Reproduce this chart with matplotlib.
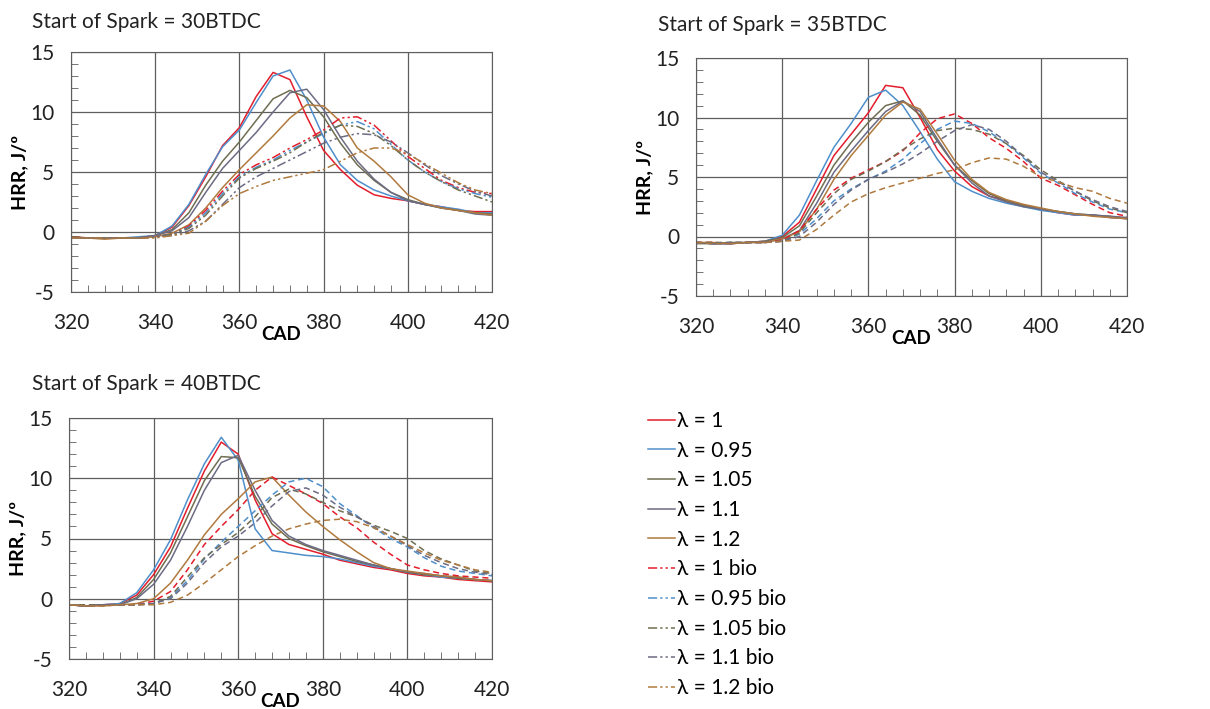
import matplotlib
matplotlib.use("Agg")
import matplotlib.pyplot as plt
from matplotlib.ticker import MultipleLocator

plt.rcParams['font.family'] = ['Lato', 'DejaVu Sans']
plt.rcParams['axes.unicode_minus'] = False

# crank angle grid (CAD)
cad = [320, 324, 328, 332, 336, 340, 344, 348, 352, 356, 360, 364, 368,
       372, 376, 380, 384, 388, 392, 396, 400, 404, 408, 412, 416, 420]

labels = ['λ = 1', 'λ = 0.95', 'λ = 1.05', 'λ = 1.1', 'λ = 1.2',
          'λ = 1 bio', 'λ = 0.95 bio', 'λ = 1.05 bio', 'λ = 1.1 bio', 'λ = 1.2 bio']
colors = ['#e31d2b', '#4f8fcb', '#6f6e52', '#6c6b84', '#b07a3e',
          '#e31d2b', '#4f8fcb', '#6f6e52', '#6c6b84', '#b07a3e']

# Start of spark = 30 BTDC
hrr30 = [
    [-0.4, -0.5, -0.5, -0.5, -0.5, -0.3, 0.4, 2.2, 4.6, 7.2, 8.7, 11.3, 13.3, 12.7, 9.6, 6.8, 5.2, 3.9, 3.1, 2.8, 2.6, 2.3, 2.1, 1.8, 1.7, 1.7],
    [-0.5, -0.5, -0.5, -0.5, -0.4, -0.3, 0.5, 2.3, 4.8, 7.1, 8.5, 10.8, 13.0, 13.5, 11.0, 7.9, 5.6, 4.3, 3.5, 3.0, 2.6, 2.3, 2.1, 1.9, 1.6, 1.6],
    [-0.4, -0.5, -0.5, -0.5, -0.5, -0.3, 0.2, 1.6, 3.9, 5.9, 7.5, 9.3, 11.1, 11.8, 11.2, 9.6, 7.4, 5.6, 4.3, 3.3, 2.7, 2.3, 2.0, 1.8, 1.6, 1.5],
    [-0.5, -0.5, -0.5, -0.5, -0.5, -0.3, 0.1, 1.2, 3.3, 5.3, 6.8, 8.3, 10.0, 11.6, 11.9, 10.2, 7.9, 5.9, 4.4, 3.3, 2.6, 2.3, 2.0, 1.8, 1.5, 1.4],
    [-0.5, -0.5, -0.6, -0.5, -0.5, -0.4, -0.1, 0.6, 2.0, 3.7, 5.2, 6.6, 8.0, 9.5, 10.6, 10.5, 9.2, 7.0, 5.9, 4.6, 3.1, 2.4, 2.0, 1.8, 1.6, 1.4],
    [-0.4, -0.5, -0.5, -0.5, -0.5, -0.4, -0.2, 0.5, 1.8, 3.4, 4.8, 5.6, 6.2, 7.0, 7.7, 8.5, 9.5, 9.6, 8.9, 7.6, 6.3, 5.3, 4.3, 3.7, 3.3, 3.2],
    [-0.5, -0.5, -0.5, -0.5, -0.5, -0.4, -0.2, 0.4, 1.6, 3.2, 4.6, 5.4, 6.0, 6.8, 7.5, 8.2, 8.9, 9.2, 8.6, 7.3, 6.0, 5.0, 4.2, 3.6, 3.2, 2.9],
    [-0.4, -0.5, -0.5, -0.5, -0.5, -0.4, -0.2, 0.3, 1.4, 3.0, 4.5, 5.3, 5.9, 6.6, 7.5, 8.3, 8.9, 8.8, 8.2, 7.2, 6.0, 5.0, 4.2, 3.5, 3.0, 2.5],
    [-0.5, -0.5, -0.5, -0.5, -0.5, -0.4, -0.3, 0.1, 0.9, 2.3, 3.7, 4.6, 5.3, 6.0, 6.7, 7.4, 7.9, 8.2, 8.1, 7.5, 6.6, 5.6, 4.7, 4.0, 3.4, 3.0],
    [-0.5, -0.5, -0.5, -0.5, -0.5, -0.5, -0.3, -0.1, 0.9, 2.2, 3.2, 3.8, 4.3, 4.6, 4.9, 5.2, 5.9, 6.6, 7.0, 7.0, 6.5, 5.7, 4.9, 4.1, 3.5, 3.2],
]

# Start of spark = 35 BTDC
hrr35 = [
    [-0.5, -0.6, -0.6, -0.5, -0.4, 0.0, 1.2, 4.0, 6.8, 8.6, 10.4, 12.7, 12.5, 10.0, 7.3, 5.5, 4.2, 3.4, 3.0, 2.6, 2.3, 2.0, 1.8, 1.8, 1.6, 1.5],
    [-0.5, -0.6, -0.6, -0.5, -0.4, 0.1, 1.8, 4.7, 7.5, 9.5, 11.7, 12.3, 11.0, 8.8, 6.5, 4.6, 3.8, 3.2, 2.8, 2.5, 2.2, 2.0, 1.8, 1.8, 1.6, 1.5],
    [-0.6, -0.6, -0.5, -0.5, -0.4, -0.1, 0.9, 3.4, 6.0, 7.9, 9.6, 11.0, 11.4, 10.2, 8.0, 6.0, 4.7, 3.6, 3.0, 2.6, 2.3, 2.1, 1.9, 1.8, 1.7, 1.5],
    [-0.5, -0.6, -0.6, -0.5, -0.5, -0.2, 0.5, 2.8, 5.4, 7.2, 8.9, 10.5, 11.4, 10.5, 8.2, 6.0, 4.5, 3.4, 2.9, 2.5, 2.3, 2.1, 1.9, 1.8, 1.7, 1.6],
    [-0.5, -0.5, -0.6, -0.5, -0.5, -0.2, 0.4, 2.3, 4.8, 6.8, 8.5, 10.2, 11.3, 10.7, 8.6, 6.4, 4.8, 3.7, 3.1, 2.7, 2.4, 2.1, 1.9, 1.7, 1.6, 1.5],
    [-0.5, -0.5, -0.6, -0.5, -0.5, -0.3, 0.5, 2.3, 3.9, 4.9, 5.6, 6.3, 7.2, 8.7, 9.9, 10.3, 9.5, 8.3, 7.4, 6.3, 4.9, 4.3, 3.5, 2.7, 2.0, 1.7],
    [-0.5, -0.6, -0.6, -0.5, -0.5, -0.4, 0.2, 1.5, 3.0, 4.0, 4.8, 5.5, 6.5, 7.8, 9.0, 9.7, 9.5, 8.8, 7.8, 6.6, 5.3, 4.5, 3.6, 2.9, 2.3, 2.0],
    [-0.5, -0.5, -0.5, -0.5, -0.5, -0.4, 0.3, 2.0, 3.6, 4.8, 5.5, 6.3, 7.3, 8.2, 8.9, 9.1, 9.0, 8.6, 7.8, 6.8, 5.6, 4.7, 3.8, 3.0, 2.4, 2.0],
    [-0.5, -0.6, -0.5, -0.5, -0.5, -0.4, 0.0, 1.2, 2.7, 3.9, 4.8, 5.4, 6.1, 7.0, 8.0, 8.9, 9.4, 9.0, 8.0, 6.7, 5.4, 4.6, 3.8, 3.1, 2.5, 2.1],
    [-0.5, -0.6, -0.6, -0.5, -0.5, -0.4, -0.3, 0.6, 1.8, 2.9, 3.6, 4.1, 4.5, 4.9, 5.3, 5.6, 6.2, 6.6, 6.5, 5.9, 5.0, 4.6, 4.1, 3.8, 3.2, 2.8],
]

# Start of spark = 40 BTDC
hrr40 = [
    [-0.5, -0.6, -0.5, -0.4, 0.3, 2.0, 4.3, 7.5, 10.6, 13.0, 12.0, 8.2, 5.4, 4.5, 4.1, 3.7, 3.2, 2.9, 2.6, 2.4, 2.1, 1.9, 1.8, 1.6, 1.5, 1.4],
    [-0.5, -0.6, -0.5, -0.4, 0.5, 2.4, 4.9, 8.2, 11.2, 13.4, 11.5, 5.8, 4.0, 3.8, 3.6, 3.5, 3.3, 3.0, 2.7, 2.5, 2.2, 2.0, 1.8, 1.7, 1.6, 1.5],
    [-0.5, -0.6, -0.5, -0.5, 0.1, 1.6, 3.8, 6.8, 9.8, 11.8, 11.7, 8.5, 6.2, 5.0, 4.4, 3.9, 3.5, 3.1, 2.8, 2.5, 2.2, 2.0, 1.9, 1.7, 1.6, 1.5],
    [-0.5, -0.6, -0.5, -0.5, 0.0, 1.2, 3.2, 6.0, 9.0, 11.3, 11.9, 9.0, 6.5, 5.2, 4.5, 4.0, 3.6, 3.2, 2.8, 2.5, 2.2, 2.1, 1.9, 1.8, 1.6, 1.5],
    [-0.5, -0.6, -0.6, -0.5, -0.4, 0.0, 1.3, 3.2, 5.3, 7.0, 8.3, 9.7, 10.1, 8.6, 7.2, 6.0, 4.9, 3.9, 3.0, 2.5, 2.3, 2.1, 1.9, 1.8, 1.6, 1.5],
    [-0.5, -0.6, -0.5, -0.5, -0.5, -0.2, 0.6, 2.4, 4.5, 6.0, 7.4, 9.0, 10.1, 9.4, 8.7, 7.9, 6.8, 5.9, 4.7, 3.7, 2.8, 2.4, 2.1, 1.9, 1.8, 1.7],
    [-0.5, -0.6, -0.5, -0.5, -0.5, -0.4, 0.1, 1.5, 3.3, 4.7, 6.0, 7.3, 8.6, 9.7, 10.0, 9.3, 7.9, 6.9, 5.9, 5.0, 4.3, 3.4, 2.7, 2.3, 2.1, 1.9],
    [-0.5, -0.5, -0.5, -0.5, -0.5, -0.4, 0.2, 1.8, 3.4, 4.5, 5.5, 6.8, 8.4, 9.1, 8.7, 8.0, 7.3, 6.8, 6.1, 5.6, 5.0, 4.0, 3.3, 2.8, 2.3, 2.1],
    [-0.5, -0.6, -0.5, -0.5, -0.5, -0.4, 0.0, 1.3, 3.0, 4.3, 5.2, 6.3, 7.7, 8.9, 9.2, 8.6, 7.6, 6.8, 6.0, 5.2, 4.4, 3.6, 3.0, 2.5, 2.2, 2.0],
    [-0.5, -0.6, -0.6, -0.5, -0.5, -0.5, -0.3, 0.3, 1.3, 2.4, 3.5, 4.4, 5.2, 5.8, 6.2, 6.5, 6.6, 6.4, 5.9, 5.2, 4.5, 3.8, 3.2, 2.8, 2.4, 2.2],
]

titles = ['Start of Spark = 30BTDC', 'Start of Spark = 35BTDC', 'Start of Spark = 40BTDC']

W, H = 1210, 709
fig = plt.figure(figsize=(W / 100, H / 100), dpi=100)

# axes rectangles in pixels: left, top, right, bottom
boxes = [(71, 52, 492, 292), (696, 58, 1127, 296), (69, 418, 492, 659)]
title_pos = [(32, 22), (658, 25), (32, 384)]
dashdot = (0, (6, 2, 1.5, 2, 1.5, 2))
dashed = (0, (4, 2.5))

axes = []
for i, hrr in enumerate([hrr30, hrr35, hrr40]):
    l, t, r, b = boxes[i]
    ax = fig.add_axes([l / W, 1 - b / H, (r - l) / W, (b - t) / H])
    for j, y in enumerate(hrr):
        if j < 5:
            ls = '-'
        else:
            ls = dashdot if i == 0 else dashed
        ax.plot(cad, y, color=colors[j], lw=1.1, ls=ls, label=labels[j])
    ax.set_xlim(320, 420)
    ax.set_ylim(-5, 15)
    ax.xaxis.set_major_locator(MultipleLocator(20))
    ax.xaxis.set_minor_locator(MultipleLocator(4))
    ax.yaxis.set_major_locator(MultipleLocator(5))
    ax.yaxis.set_minor_locator(MultipleLocator(1))
    ax.grid(True, which='major', color='#5e5e5e', lw=0.9)
    ax.tick_params(which='both', direction='in', top=False, right=False,
                   colors='#5e5e5e', labelcolor='#222222', labelsize=15)
    ax.tick_params(which='major', length=0)
    ax.tick_params(which='minor', length=5)
    ax.tick_params(axis='x', which='major', pad=15)
    ax.tick_params(axis='y', which='major', pad=12)
    for s in ax.spines.values():
        s.set_color('#5e5e5e')
    ax.set_xlabel('CAD', fontweight='bold', fontsize=13.5, labelpad=-5)
    ax.set_ylabel('HRR, J/º', fontweight='bold', fontsize=14, labelpad=1)
    tx, ty = title_pos[i]
    fig.text(tx / W, 1 - ty / H, titles[i], fontsize=15, va='center', ha='left', color='#222222')
    axes.append(ax)

handles, labs = axes[0].get_legend_handles_labels()
fig.legend(handles, labs, loc='upper left', bbox_to_anchor=(648 / W, 1 - 411 / H),
           frameon=False, fontsize=15, handlelength=1.3, handletextpad=0.1,
           labelspacing=0.465, borderpad=0, borderaxespad=0)

fig.savefig('out.png', dpi=100)
